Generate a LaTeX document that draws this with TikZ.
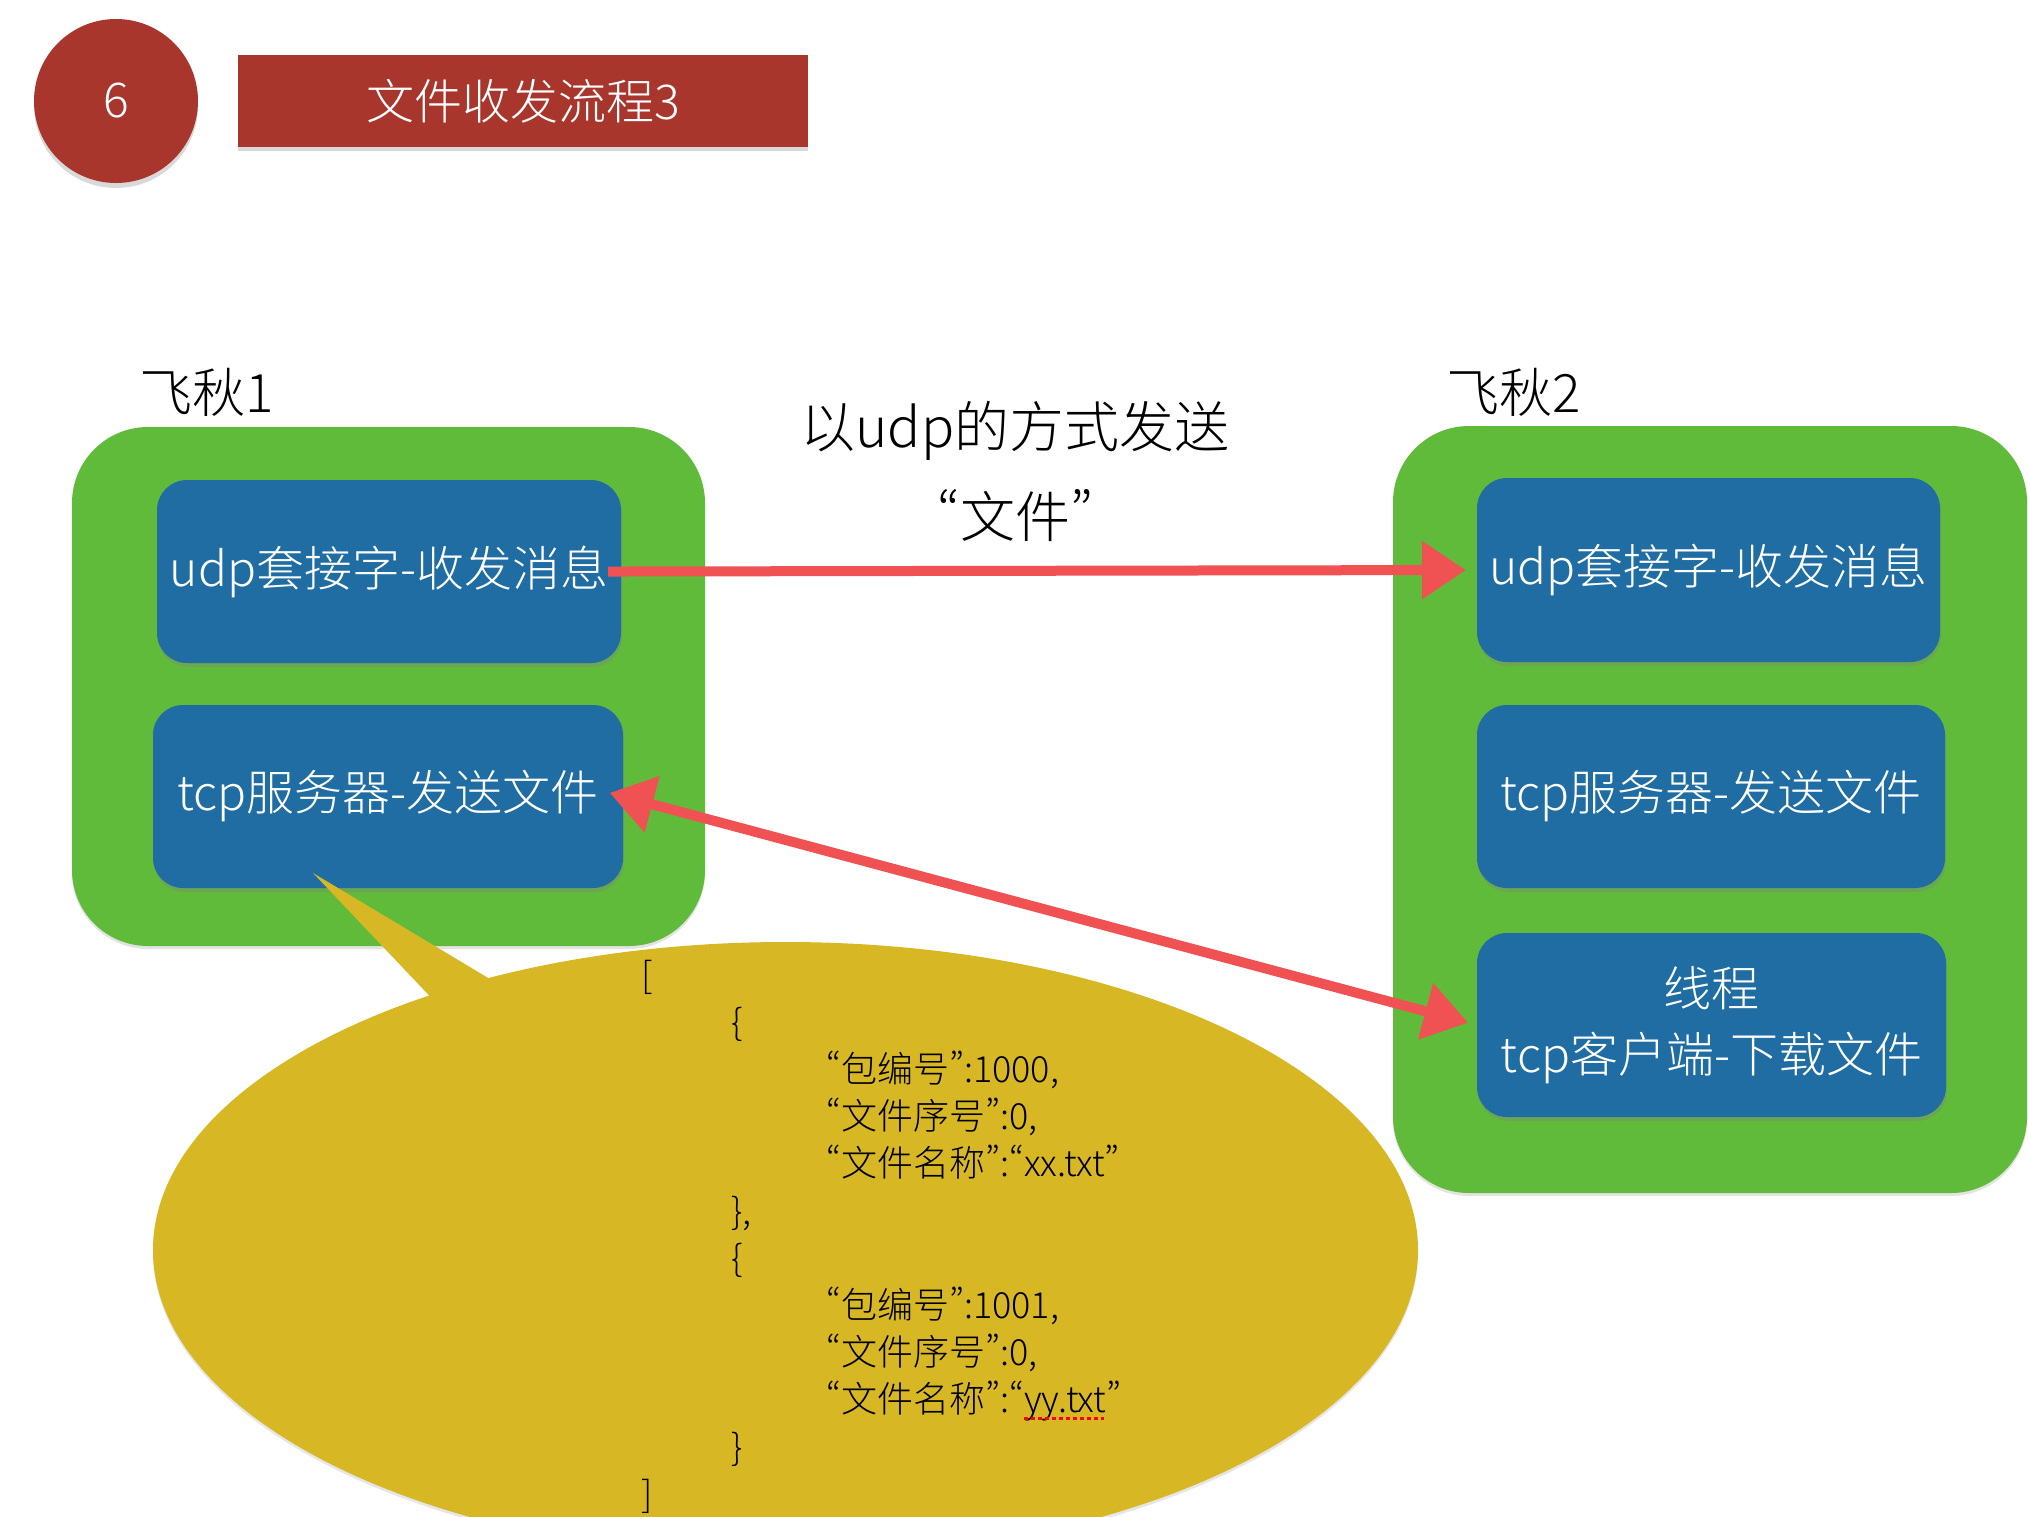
\documentclass[tikz,border=0pt]{standalone}
\usepackage{fontspec}
\setmainfont{Noto Sans CJK SC}[UprightFont={* Light}]
\newfontfamily\qfont{Noto Sans CJK SC}[UprightFont={* Light}, RawFeature=+pwid]
\usetikzlibrary{shapes.geometric,arrows.meta,shadows}
\definecolor{titlered}{RGB}{168,54,45}
\definecolor{boxgreen}{RGB}{96,187,58}
\definecolor{boxblue}{RGB}{31,109,162}
\definecolor{bubblegold}{RGB}{216,183,36}
\definecolor{arrowred}{RGB}{240,82,84}
\newcommand\qL{{\qfont “}}
\newcommand\qR{{\qfont ”}}
\newcommand\fs[1]{\fontsize{#1}{#1}\selectfont}
\tikzset{
  hostbox/.style={rectangle, rounded corners=76pt, fill=boxgreen, draw=none, inner sep=0pt,
    drop shadow={shadow xshift=0pt, shadow yshift=-3pt, opacity=0.22}},
  procbox/.style={rectangle, rounded corners=30pt, fill=boxblue, text=white, align=center,
    font=\fs{48}, inner sep=0pt,
    drop shadow={shadow xshift=1pt, shadow yshift=-4pt, opacity=0.35}},
  hostlabel/.style={font=\fs{53}, inner sep=0pt},
  msgline/.style={anchor=base west, font=\fs{36}, inner sep=0pt},
  flow/.style={draw=arrowred, line width=10pt, -{Triangle[length=44pt,width=56pt]}},
  flowboth/.style={draw=arrowred, line width=10pt, {Triangle[length=44pt,width=56pt]}-{Triangle[length=44pt,width=56pt]}},
}
\begin{document}
\begin{tikzpicture}[x=1pt,y=-1pt]
\useasboundingbox (0,0) rectangle (2028,1516);
% header
\node[circle, fill=titlered, minimum size=164pt, inner sep=0pt, text=white, font=\fs{48},
  drop shadow={shadow xshift=0pt, shadow yshift=-5pt, opacity=0.3}] (badge) at (116,101) {6};
\node[rectangle, fill=titlered, minimum width=570pt, minimum height=92pt, inner sep=0pt,
  text=white, font=\fs{48},
  drop shadow={shadow xshift=0pt, shadow yshift=-4pt, opacity=0.3}] (title) at (523,101) {文件收发流程3};
% hosts
\node[hostbox, minimum width=633pt, minimum height=519pt] (host1) at (388.5,686.5) {};
\node[hostbox, minimum width=634pt, minimum height=767pt] (host2) at (1710,809.5) {};
\node[hostlabel] (lab1) at (207,392) {飞秋1};
\node[hostlabel] (lab2) at (1514,392) {飞秋2};
% process boxes
\node[procbox, minimum width=464pt, minimum height=183pt] (lb1) at (389,571.5) {udp套接字-收发消息};
\node[procbox, minimum width=470pt, minimum height=183pt] (lb2) at (388,796.5) {tcp服务器-发送文件};
\node[procbox, minimum width=463pt, minimum height=184pt] (rb1) at (1708.5,570) {udp套接字-收发消息};
\node[procbox, minimum width=468pt, minimum height=183pt] (rb2) at (1711,796.5) {tcp服务器-发送文件};
\node[procbox, minimum width=469pt, minimum height=184pt, font=\fontsize{48}{66}\selectfont] (rb3) at (1711.5,1025) {线程\\tcp客户端-下载文件};
% middle label
\node[font=\fs{55}, inner sep=0pt] (how) at (1015,431) {以udp的方式发送};
\node[font=\fs{55}, inner sep=0pt] (what) at (1015,515) {\qL 文件\qR};
% callout
\node[ellipse, fill=bubblegold, minimum width=1265pt, minimum height=616pt, inner sep=0pt,
  drop shadow={shadow xshift=0pt, shadow yshift=-3pt, opacity=0.2}] (bubble) at (785.5,1250) {};
\fill[bubblegold] (313,873) -- (460,1028) -- (540,1009) -- cycle;
\node[msgline] (j1) at (641,988) {[};
\node[msgline] (j2) at (731,1035.2) {\{};
\node[msgline] (j3) at (826,1082.4) {\qL 包编号\qR:1000,};
\node[msgline] (j4) at (826,1129.6) {\qL 文件序号\qR:0,};
\node[msgline] (j5) at (826,1176.8) {\qL 文件名称\qR:\qL xx.txt\qR};
\node[msgline] (j6) at (731,1224) {\},};
\node[msgline] (j7) at (731,1271.2) {\{};
\node[msgline] (j8) at (826,1318.4) {\qL 包编号\qR:1001,};
\node[msgline] (j9) at (826,1365.6) {\qL 文件序号\qR:0,};
\node[msgline] (j10) at (826,1412.8) {\qL 文件名称\qR:\qL yy.txt\qR};
\node[msgline] (j11) at (731,1460) {\}};
\node[msgline] (j12) at (641,1507.2) {]};
\draw[red, line width=3pt, dash pattern=on 4pt off 3pt] (1024,1418) -- (1104,1418);
% arrows
\draw[flow, shorten <=-13pt, shorten >=11pt] (lb1.east) -- (rb1.west);
\draw[flowboth, shorten <=-14pt, shorten >=9pt] (lb2.east) -- (rb3.west);
\end{tikzpicture}
\end{document}
